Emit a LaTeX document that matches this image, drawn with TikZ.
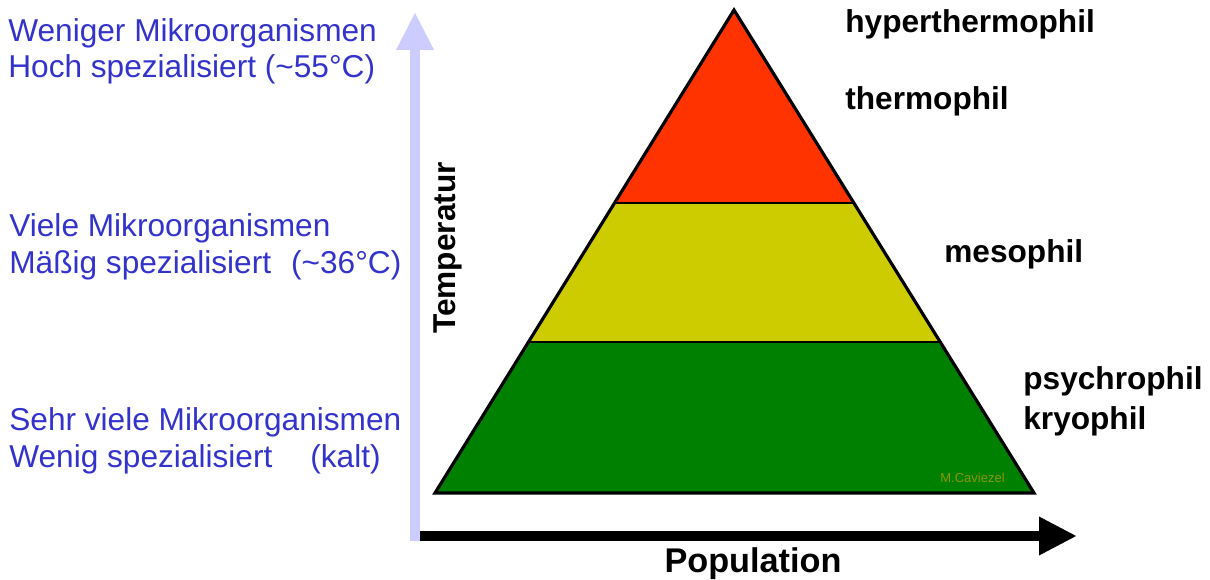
\documentclass[tikz,border=0pt]{standalone}
\usepackage{fontspec}
\setmainfont{Liberation Sans}
\usetikzlibrary{positioning,calc,arrows.meta}
\definecolor{lavender}{RGB}{204,204,255}
\definecolor{txtblue}{RGB}{51,51,204}
\definecolor{hotred}{RGB}{255,51,0}
\definecolor{mildyellow}{RGB}{204,204,0}
\definecolor{coldgreen}{RGB}{0,128,0}
\definecolor{signolive}{RGB}{140,150,0}

\begin{document}
\begin{tikzpicture}[x=0.02cm, y=-0.02cm,
    lefttext/.style={anchor=base west, inner sep=0pt, text=txtblue, font=\fontsize{18}{22}\selectfont},
    phil/.style={anchor=base west, inner sep=0pt, font=\fontsize{18}{22}\selectfont\bfseries},
    layer/.style={draw=black, line width=1pt}]
        \useasboundingbox (0,0) rectangle (1210,580);
        \coordinate (apex) at (734,10);
        \coordinate (bl) at (435,493);
        \coordinate (br) at (1034,493);
        \coordinate (l1) at ($(apex)!0.3996!(bl)$);
        \coordinate (r1) at ($(apex)!0.3996!(br)$);
        \coordinate (l2) at ($(apex)!0.6874!(bl)$);
        \coordinate (r2) at ($(apex)!0.6874!(br)$);
        \fill[hotred] (apex) -- (l1) -- (r1) -- cycle;
        \fill[mildyellow] (l1) -- (l2) -- (r2) -- (r1) -- cycle;
        \fill[coldgreen] (l2) -- (bl) -- (br) -- (r2) -- cycle;
        \draw[layer] (l1) -- (r1);
        \draw[layer] (l2) -- (r2);
        \draw[line width=1.8pt, line join=miter] (apex) -- (bl) -- (br) -- cycle;
        \node (sign) at (1005,482) [anchor=base east, inner sep=0pt, text=signolive, font=\fontsize{7.4}{9}\selectfont] {M.Caviezel};

        \coordinate (yfoot) at (415,541);
        \coordinate (ytip) at (415,12);
        \coordinate (xfoot) at (420,536);
        \coordinate (xtip) at (1077,536);
        \draw[lavender, line width=0.2cm, -{Triangle[width=0.7cm,length=0.76cm]}] (yfoot) -- (ytip);
        \draw[black, line width=0.2cm, -{Triangle[width=0.72cm,length=0.76cm]}] (xfoot) -- (xtip);
        \node (temp) at (455,248) [rotate=90, anchor=base, inner sep=0pt, font=\fontsize{18}{22}\selectfont\bfseries] {Temperatur};
        \node (population) at (753,572) [anchor=base, inner sep=0pt, font=\fontsize{19.5}{23}\selectfont\bfseries] {Population};

        \node (few) at (8,42) [lefttext] {Weniger Mikroorganismen};
        \node (fewspec) at (8,78) [lefttext] {Hoch spezialisiert (\textasciitilde55°C)};
        \node (many) at (9,237) [lefttext] {Viele Mikroorganismen};
        \node (manyspec) at (9,274) [lefttext] {Mäßig spezialisiert\hspace{0.4cm}(\textasciitilde36°C)};
        \node (most) at (9,431) [lefttext] {Sehr viele Mikroorganismen};
        \node (mostspec) at (9,468) [lefttext] {Wenig spezialisiert\hspace{0.76cm}(kalt)};

        \node (hyper) at (845,33) [phil] {hyperthermophil};
        \node (thermo) at (845,110) [phil] {thermophil};
        \node (meso) at (944,263) [phil] {mesophil};
        \node (psychro) at (1023,390) [phil] {psychrophil};
        \node (kryo) at (1023,430) [phil] {kryophil};
    \end{tikzpicture}
\end{document}
